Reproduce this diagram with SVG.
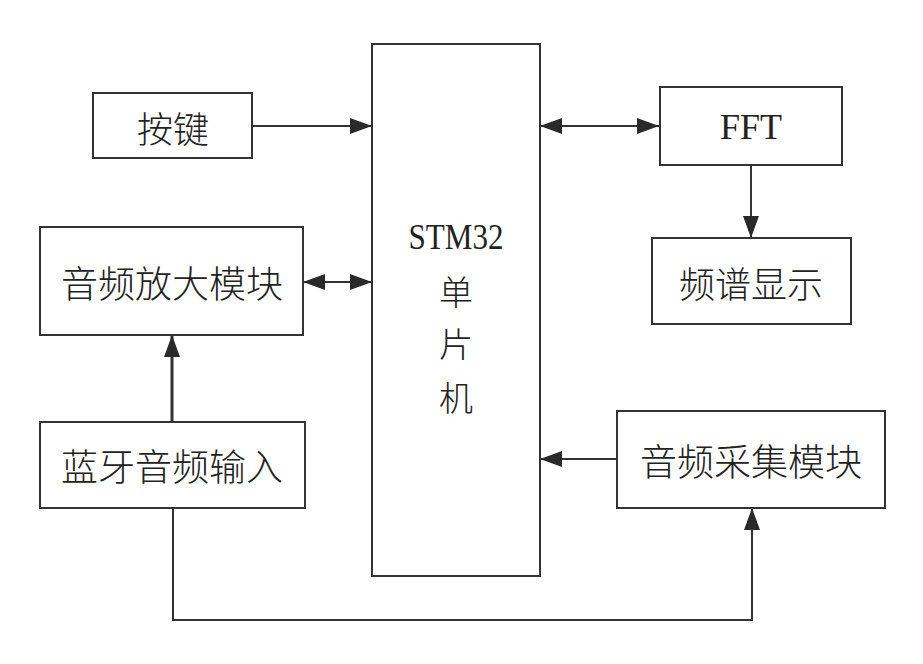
<svg xmlns="http://www.w3.org/2000/svg" width="923" height="664" viewBox="0 0 923 664">
<style>
.box{fill:#fff;stroke:#333;stroke-width:2}
.cn{font-family:"Noto Sans CJK SC","Noto Sans CJK JP",sans-serif;font-size:36px;fill:#222;text-anchor:middle;dominant-baseline:central;font-weight:300}
.lat{font-family:"Liberation Serif",serif;font-size:36px;fill:#222;text-anchor:middle;dominant-baseline:central}
.ln{fill:none;stroke:#333;stroke-width:2}
</style>
<defs>
<marker id="ah" markerUnits="userSpaceOnUse" markerWidth="22" markerHeight="16" refX="22" refY="8" orient="auto-start-reverse" viewBox="0 0 22 16">
<path d="M0,0 L22,8 L0,16 z" fill="#2a2a2a"/>
</marker>
</defs>
<rect width="923" height="664" fill="#fff"/>
<g id="connectors">
<line class="ln" x1="252" y1="126" x2="372" y2="126" marker-end="url(#ah)"/>
<line class="ln" x1="540" y1="126" x2="659" y2="126" marker-start="url(#ah)" marker-end="url(#ah)"/>
<line class="ln" x1="751" y1="165" x2="751" y2="238" marker-end="url(#ah)"/>
<line class="ln" x1="303" y1="282" x2="372" y2="282" marker-start="url(#ah)" marker-end="url(#ah)"/>
<line class="ln" style="stroke-width:3" x1="172" y1="422" x2="172" y2="335" marker-end="url(#ah)"/>
<line class="ln" x1="617" y1="459" x2="540" y2="459" marker-end="url(#ah)"/>
<polyline class="ln" points="173,508 173,620 752,620 752,508" marker-end="url(#ah)"/>
</g>
<g id="stm32">
<rect class="box" x="372" y="44" width="168" height="532"/>
<text class="lat" x="456" y="237" textLength="95" lengthAdjust="spacingAndGlyphs">STM32</text>
<text class="cn" x="456" y="290" style="font-size:34px">单</text>
<text class="cn" x="456" y="342" style="font-size:34px">片</text>
<text class="cn" x="456" y="396" style="font-size:34px">机</text>
</g>
<g id="key">
<rect class="box" x="93" y="93" width="159" height="65"/>
<text class="cn" x="173" y="127">按键</text>
</g>
<g id="fft">
<rect class="box" x="660" y="87" width="182" height="78"/>
<text class="lat" x="751" y="127">FFT</text>
</g>
<g id="spectrum">
<rect class="box" x="652" y="238" width="199" height="86"/>
<text class="cn" x="751" y="282">频谱显示</text>
</g>
<g id="amp">
<rect class="box" x="40" y="227" width="263" height="108"/>
<text class="cn" x="172" y="282" style="font-size:37px">音频放大模块</text>
</g>
<g id="bt">
<rect class="box" x="40" y="422" width="265" height="86"/>
<text class="cn" x="172" y="465" style="font-size:37px">蓝牙音频输入</text>
</g>
<g id="collect">
<rect class="box" x="617" y="411" width="268" height="97"/>
<text class="cn" x="751" y="460" style="font-size:37px">音频采集模块</text>
</g>
</svg>
